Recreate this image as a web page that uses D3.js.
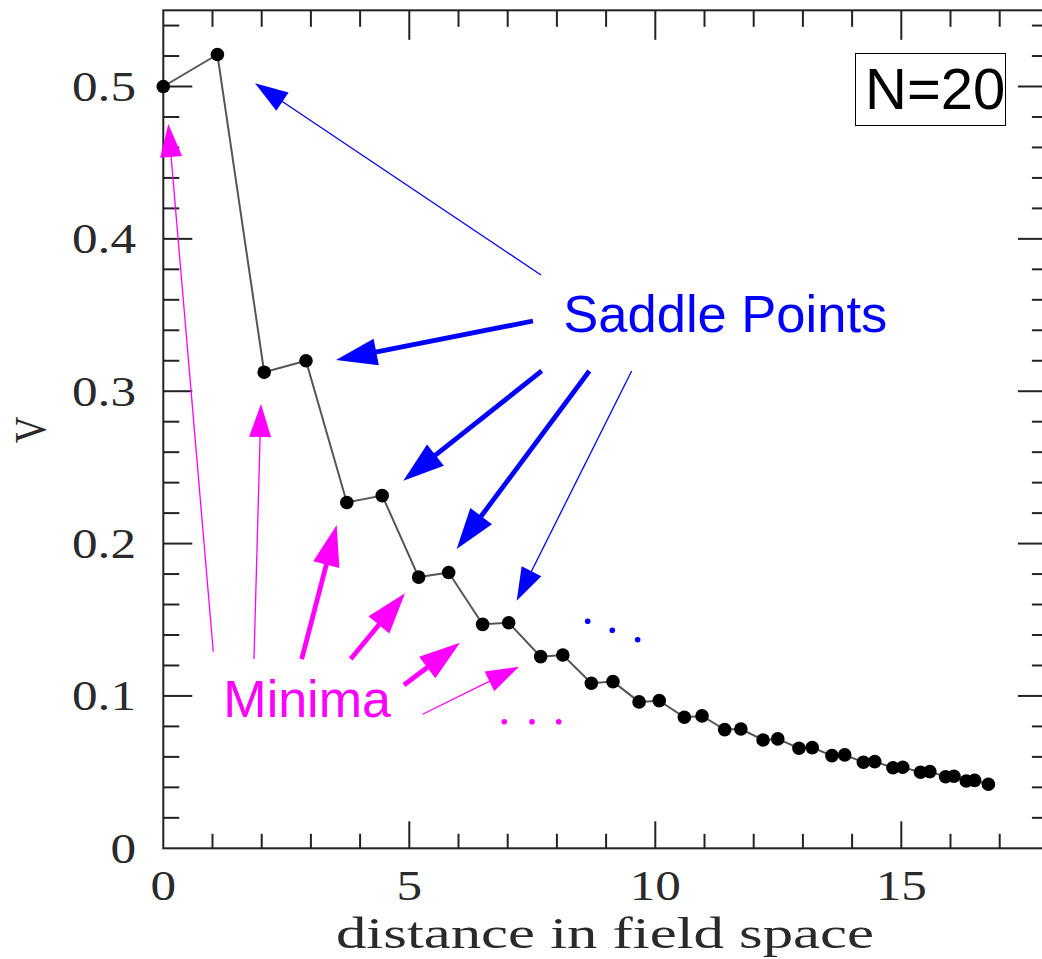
<!DOCTYPE html>
<html>
<head>
<meta charset="utf-8">
<script src="https://cdn.jsdelivr.net/npm/d3@7"></script>
<style>
  html, body { margin: 0; padding: 0; background: #fff; }
  svg { display: block; }
</style>
</head>
<body>
<svg id="chart" width="1042" height="959"></svg>
<script>
// ---------------- data ----------------
const distance = [0, 1.10, 2.05, 2.90, 3.73, 4.45, 5.19, 5.80, 6.49, 7.02, 7.67, 8.12,
  8.70, 9.14, 9.67, 10.08, 10.59, 10.95, 11.41, 11.74, 12.19, 12.49, 12.92, 13.19,
  13.59, 13.85, 14.23, 14.46, 14.83, 15.03, 15.39, 15.58, 15.90, 16.07, 16.32, 16.49, 16.77];
const potential = [0.500, 0.521, 0.3125, 0.320, 0.227, 0.2315, 0.178, 0.181, 0.147, 0.148, 0.1258, 0.1269,
  0.1083, 0.1094, 0.0961, 0.0969, 0.0860, 0.0869, 0.0779, 0.0783, 0.0711, 0.0718, 0.0657, 0.0661,
  0.0608, 0.0613, 0.0565, 0.0569, 0.0529, 0.0532, 0.0499, 0.0503, 0.0470, 0.0473, 0.0442, 0.0446, 0.0420];

const xTickValues = [0, 5, 10, 15];
const xTickLabels = ["0", "5", "10", "15"];
const yTickValues = [0, 0.1, 0.2, 0.3, 0.4, 0.5];
const yTickLabels = ["0", "0.1", "0.2", "0.3", "0.4", "0.5"];
const xMinorTicks = d3.range(0, 19, 1);
const yMinorTicks = d3.range(0, 0.5501, 0.02);

const xTitle = "distance in field space";
const yTitle = "V";
const boxLabel = "N=20";

// annotations in data coordinates: [x1, y1, x2(tip), y2(tip), thick?]
const saddleArrows = [
  [7.677, 0.3763, 1.864, 0.5021, false],
  [7.514, 0.3461, 3.510, 0.3205, true],
  [7.691, 0.3133, 4.878, 0.2413, true],
  [8.659, 0.3133, 5.963, 0.1964, true],
  [9.520, 0.3133, 7.183, 0.1625, false]
];
const minimaArrows = [
  [1.016, 0.1290, 0.102, 0.4754, false],
  [1.843, 0.1242, 1.986, 0.2916, false],
  [2.813, 0.1242, 3.524, 0.2122, true],
  [3.809, 0.1242, 4.913, 0.1674, true],
  [4.892, 0.1072, 6.030, 0.1349, true],
  [5.272, 0.0880, 7.230, 0.1192, false]
];
const saddleDots = [[8.626, 0.1490], [9.126, 0.1431], [9.642, 0.1369]];
const minimaDots = [[6.931, 0.0831], [7.494, 0.0831], [8.037, 0.0831]];
const saddleLabel = {text: "Saddle Points", x: 8.13, y: 0.339};
const minimaLabel = {text: "Minima", x: 1.22, y: 0.086};

// ---------------- scales ----------------
const svg = d3.select("#chart");
const x = d3.scaleLinear().domain([0, 18]).range([163.3, 163.3 + 18 * 49.2]);
const y = d3.scaleLinear().domain([0, 0.55]).range([848.3, 848.3 - 0.55 * 1523.6]);

const axisColor = "#222";
const BLUE = "#0000ff", MAGENTA = "#ff00ff";

// frame
svg.append("rect")
  .attr("x", x(0)).attr("y", y(0.55))
  .attr("width", x(18) - x(0)).attr("height", y(0) - y(0.55))
  .attr("fill", "none").attr("stroke", axisColor).attr("stroke-width", 2);

// ticks
const isMajorX = v => Math.abs(v % 5) < 1e-6;
const isMajorY = v => Math.abs(Math.round(v * 10) - v * 10) < 1e-6;
const tg = svg.append("g").attr("stroke", axisColor).attr("stroke-width", 2);
xMinorTicks.forEach(v => {
  if (v === 0 || v === 18) return;
  const maj = isMajorX(v);
  tg.append("line").attr("x1", x(v)).attr("x2", x(v))
    .attr("y1", y(0)).attr("y2", y(0) - (maj ? 27 : 14.5));
  tg.append("line").attr("x1", x(v)).attr("x2", x(v))
    .attr("y1", y(0.55)).attr("y2", y(0.55) + (maj ? 29.5 : 16.5));
});
yMinorTicks.forEach(v => {
  if (v < 1e-6 || v > 0.5499) return;
  const maj = isMajorY(v);
  tg.append("line").attr("y1", y(v)).attr("y2", y(v))
    .attr("x1", x(0)).attr("x2", x(0) + (maj ? 29 : 16));
  tg.append("line").attr("y1", y(v)).attr("y2", y(v))
    .attr("x1", x(18)).attr("x2", x(18) - (maj ? 31 : 17));
});

// tick labels
const tickFont = "'Liberation Serif', 'DejaVu Serif', serif";
yTickValues.forEach((v, i) => {
  svg.append("text")
    .attr("transform", `translate(136,${y(v) + 14.5}) scale(1.22,1)`)
    .attr("text-anchor", "end")
    .attr("font-family", tickFont).attr("font-size", 42).attr("fill", "#2a2a2a")
    .text(yTickLabels[i]);
});
xTickValues.forEach((v, i) => {
  svg.append("text")
    .attr("transform", `translate(${x(v)},900) scale(1.22,1)`)
    .attr("text-anchor", "middle")
    .attr("font-family", tickFont).attr("font-size", 42).attr("fill", "#2a2a2a")
    .text(xTickLabels[i]);
});

// axis titles
svg.append("text")
  .attr("x", 336).attr("y", 948)
  .attr("textLength", 538).attr("lengthAdjust", "spacingAndGlyphs")
  .attr("font-family", tickFont).attr("font-size", 44).attr("fill", "#2a2a2a")
  .text(xTitle);
svg.append("text")
  .attr("transform", "translate(30,430) scale(1.22,1) rotate(-90)")
  .attr("text-anchor", "middle").attr("dy", "0.33em")
  .attr("font-family", tickFont).attr("font-size", 37).attr("fill", "#2a2a2a")
  .text(yTitle);

// data line + points
const line = d3.line().x((d, i) => x(distance[i])).y(d => y(d));
svg.append("path").datum(potential)
  .attr("d", line).attr("fill", "none")
  .attr("stroke", "#555").attr("stroke-width", 2);
svg.append("g").selectAll("circle").data(potential).join("circle")
  .attr("cx", (d, i) => x(distance[i])).attr("cy", d => y(d))
  .attr("r", 6.8).attr("fill", "#000");

// arrows
function drawArrow(g, a, color) {
  const [dx1, dy1, dx2, dy2, thick] = a;
  const x1 = x(dx1), y1 = y(dy1), x2 = x(dx2), y2 = y(dy2);
  const hl = thick ? 41 : 33, hw = thick ? 27 : 22, sw = thick ? 4.8 : 1.3;
  const L = Math.hypot(x2 - x1, y2 - y1);
  const ux = (x2 - x1) / L, uy = (y2 - y1) / L;
  const bx = x2 - ux * hl, by = y2 - uy * hl;
  g.append("line").attr("x1", x1).attr("y1", y1)
    .attr("x2", bx + ux * 2).attr("y2", by + uy * 2)
    .attr("stroke", color).attr("stroke-width", sw);
  const px = -uy, py = ux;
  g.append("polygon")
    .attr("points", [[x2, y2], [bx + px * hw / 2, by + py * hw / 2], [bx - px * hw / 2, by - py * hw / 2]]
      .map(p => p.join(",")).join(" "))
    .attr("fill", color);
}
const ag = svg.append("g");
saddleArrows.forEach(a => drawArrow(ag, a, BLUE));
minimaArrows.forEach(a => drawArrow(ag, a, MAGENTA));

ag.selectAll(".sd").data(saddleDots).join("circle")
  .attr("cx", d => x(d[0])).attr("cy", d => y(d[1])).attr("r", 2.8).attr("fill", BLUE);
ag.selectAll(".md").data(minimaDots).join("circle")
  .attr("cx", d => x(d[0])).attr("cy", d => y(d[1])).attr("r", 2.8).attr("fill", MAGENTA);

const sansFont = "'Liberation Sans', Arial, sans-serif";
svg.append("text").attr("x", x(saddleLabel.x)).attr("y", y(saddleLabel.y))
  .attr("font-family", sansFont).attr("font-size", 52.5).attr("fill", BLUE)
  .text(saddleLabel.text);
svg.append("text").attr("x", x(minimaLabel.x)).attr("y", y(minimaLabel.y))
  .attr("font-family", sansFont).attr("font-size", 52).attr("fill", MAGENTA)
  .text(minimaLabel.text);

// N=20 box
svg.append("rect").attr("x", 855.5).attr("y", 53.5).attr("width", 150).attr("height", 72)
  .attr("fill", "#fff").attr("stroke", "#000").attr("stroke-width", 1);
svg.append("text").attr("x", 865).attr("y", 109)
  .attr("font-family", sansFont).attr("font-size", 58).attr("fill", "#000")
  .text(boxLabel);
</script>
</body>
</html>
